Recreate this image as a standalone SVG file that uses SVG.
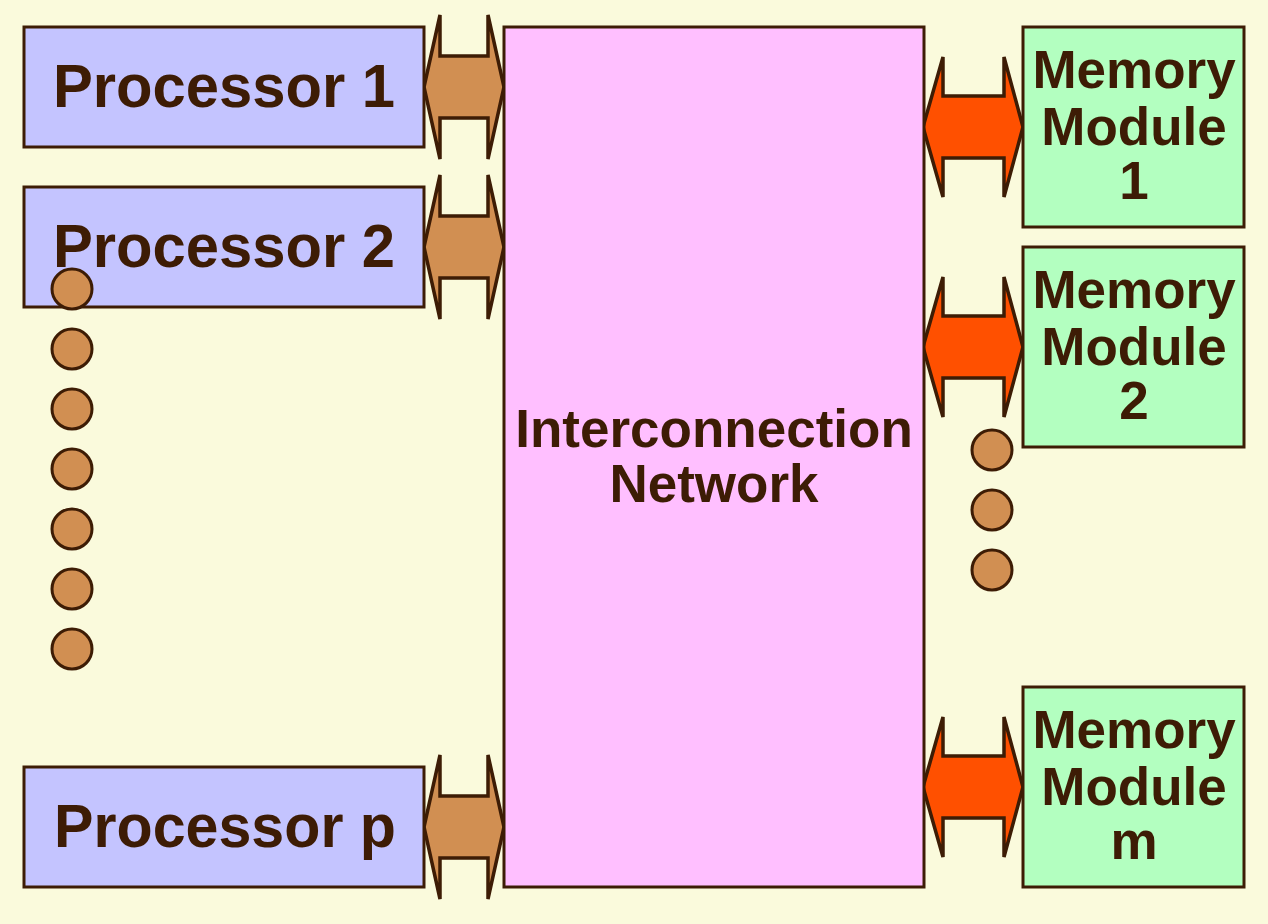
<svg xmlns="http://www.w3.org/2000/svg" width="1268" height="924" viewBox="0 0 1268 924">
<defs>
<style>
.box{stroke:#3d1c05;stroke-width:3}
.proc{fill:#c4c4ff}
.net{fill:#ffbfff}
.mem{fill:#b3ffc0}
.txt{font-family:"Liberation Sans",Arial,sans-serif;font-weight:bold;fill:#3d1c05;text-anchor:middle}
.pt{font-size:61px}
.mt{font-size:53px}
.arrL{fill:#d18f52;stroke:#3d1c05;stroke-width:3.5;stroke-linejoin:miter}
.arrR{fill:#ff5000;stroke:#3d1c05;stroke-width:3.5;stroke-linejoin:miter}
.dot{fill:#d18f52;stroke:#3d1c05;stroke-width:3}
</style>
<path id="pa" d="M424,0 L440,-72 L440,-31 L488,-31 L488,-72 L504,0 L488,72 L488,31 L440,31 L440,72 Z"/>
<path id="ma" d="M923,0 L943,-70 L943,-31 L1004,-31 L1004,-70 L1023,0 L1004,70 L1004,31 L943,31 L943,70 Z"/>
</defs>
<rect width="1268" height="924" fill="#fafadc"/>
<g id="connectors">
<use href="#pa" class="arrL" transform="translate(0,87)"/>
<use href="#pa" class="arrL" transform="translate(0,247)"/>
<use href="#pa" class="arrL" transform="translate(0,827)"/>
<use href="#ma" class="arrR" transform="translate(0,127)"/>
<use href="#ma" class="arrR" transform="translate(0,347)"/>
<use href="#ma" class="arrR" transform="translate(0,787)"/>
</g>
<g id="processor1">
<rect class="box proc" x="24" y="27" width="400" height="120"/>
<text class="txt pt" x="224" y="107" textLength="342" lengthAdjust="spacingAndGlyphs">Processor 1</text>
</g>
<g id="processor2">
<rect class="box proc" x="24" y="187" width="400" height="120"/>
<text class="txt pt" x="224" y="267" textLength="342" lengthAdjust="spacingAndGlyphs">Processor 2</text>
</g>
<g id="processorp">
<rect class="box proc" x="24" y="767" width="400" height="120"/>
<text class="txt pt" x="225" y="847" textLength="342" lengthAdjust="spacingAndGlyphs">Processor p</text>
</g>
<g id="network">
<rect class="box net" x="504" y="27" width="420" height="860"/>
<text class="txt mt" x="714" y="447">Interconnection</text>
<text class="txt mt" x="714" y="502">Network</text>
</g>
<g id="memory1">
<rect class="box mem" x="1023" y="27" width="221" height="200"/>
<text class="txt mt" x="1134" y="88">Memory</text>
<text class="txt mt" x="1134" y="145">Module</text>
<text class="txt mt" x="1134" y="199">1</text>
</g>
<g id="memory2">
<rect class="box mem" x="1023" y="247" width="221" height="200"/>
<text class="txt mt" x="1134" y="308">Memory</text>
<text class="txt mt" x="1134" y="365">Module</text>
<text class="txt mt" x="1134" y="419">2</text>
</g>
<g id="memorym">
<rect class="box mem" x="1023" y="687" width="221" height="200"/>
<text class="txt mt" x="1134" y="748">Memory</text>
<text class="txt mt" x="1134" y="805">Module</text>
<text class="txt mt" x="1134" y="859">m</text>
</g>
<g id="ellipsis-left">
<circle class="dot" cx="72" cy="289" r="20"/>
<circle class="dot" cx="72" cy="349" r="20"/>
<circle class="dot" cx="72" cy="409" r="20"/>
<circle class="dot" cx="72" cy="469" r="20"/>
<circle class="dot" cx="72" cy="529" r="20"/>
<circle class="dot" cx="72" cy="589" r="20"/>
<circle class="dot" cx="72" cy="649" r="20"/>
</g>
<g id="ellipsis-right">
<circle class="dot" cx="992" cy="450" r="20"/>
<circle class="dot" cx="992" cy="510" r="20"/>
<circle class="dot" cx="992" cy="570" r="20"/>
</g>
</svg>
